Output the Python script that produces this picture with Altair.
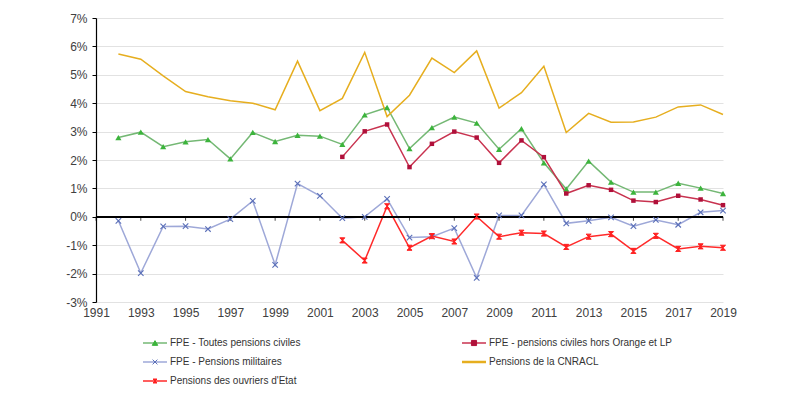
import altair as alt
import pandas as pd

years_all = list(range(1992, 2020))
years_late = list(range(2002, 2020))

toutes = [2.79, 2.98, 2.47, 2.64, 2.72, 2.04, 2.97, 2.65, 2.87, 2.84, 2.55, 3.59, 3.85, 2.40,
          3.14, 3.51, 3.30, 2.38, 3.10, 1.90, 0.98, 1.96, 1.22, 0.87, 0.87, 1.18, 1.01, 0.82]
militaires = [-0.14, -1.98, -0.34, -0.33, -0.43, -0.08, 0.56, -1.69, 1.17, 0.74, -0.05, 0.0, 0.63, -0.73,
              -0.70, -0.40, -2.15, 0.05, 0.05, 1.14, -0.23, -0.14, -0.02, -0.33, -0.11, -0.28, 0.16, 0.22]
cnracl = [5.73, 5.55, 4.96, 4.41, 4.23, 4.09, 4.00, 3.77, 5.48, 3.74, 4.17, 5.79, 3.53, 4.28,
          5.59, 5.08, 5.84, 3.83, 4.37, 5.30, 2.97, 3.64, 3.33, 3.34, 3.51, 3.87, 3.94, 3.60]
hors_orange = [2.11, 3.01, 3.25, 1.75, 2.57, 3.00, 2.79, 1.90, 2.69, 2.10,
               0.82, 1.11, 0.95, 0.57, 0.52, 0.74, 0.61, 0.41]
ouvriers = [-0.83, -1.54, 0.37, -1.09, -0.68, -0.87, 0.01, -0.70, -0.56, -0.59,
            -1.06, -0.70, -0.61, -1.20, -0.67, -1.13, -1.04, -1.09]

x_ticks = list(range(1991, 2020, 2))
y_ticks = list(range(-3, 8))

S_TOUT = "FPE - Toutes pensions civiles"
S_HORS = "FPE - pensions civiles hors Orange et LP"
S_MIL = "FPE - Pensions militaires"
S_CNR = "Pensions de la CNRACL"
S_OUV = "Pensions des ouvriers d'Etat"
series_order = [S_TOUT, S_HORS, S_MIL, S_CNR, S_OUV]

line_colors = ["#74b874", "#c8324f", "#9ea8d8", "#e6ae1f", "#ff2a2a"]
marker_colors = ["#3cb43c", "#b0103a", "#5a6fb8", "#e6ae1f", "#ff2020"]
line_widths = [1.5, 1.5, 1.3, 2.5, 1.6]

X_MARK = "M-1,-1L1,1M-1,1L1,-1"
HOURGLASS = "M-1,-1L1,-1L-1,1L1,1Z"
marker_shapes = ["triangle-up", "square", X_MARK, "circle", HOURGLASS]
legend_marker_sizes = [30, 16, 24, 0, 20]

rows = []
for name, yrs, vals in [(S_TOUT, years_all, toutes), (S_HORS, years_late, hors_orange),
                        (S_MIL, years_all, militaires), (S_CNR, years_all, cnracl),
                        (S_OUV, years_late, ouvriers)]:
    for y, v in zip(yrs, vals):
        rows.append({"year": y, "value": v, "series": name})
df = pd.DataFrame(rows)
ticks_df = pd.DataFrame({"year": x_ticks, "value": [0] * len(x_ticks)})
legend_df = pd.DataFrame({"series": series_order,
                          "col": [i % 2 for i in range(len(series_order))],
                          "row": [i // 2 for i in range(len(series_order))]})

FONT = "Liberation Sans"

x_axis = alt.Axis(values=x_ticks, format="d", title=None, ticks=False, domain=False,
                  grid=False, labelPadding=5, labelFontSize=12, labelColor="#404040",
                  labelFont=FONT, labelFlush=False)
y_axis = alt.Axis(values=y_ticks, labelExpr="datum.value + '%'", title=None,
                  domain=True, domainColor="#000000", domainWidth=1.2,
                  ticks=True, tickSize=4, tickColor="#000000",
                  grid=True, gridColor="#e2e2e2", gridWidth=1, labelOverlap=False,
                  labelPadding=5, labelFontSize=12, labelColor="#404040", labelFont=FONT)
x_scale = alt.Scale(domain=[1991, 2019], nice=False, zero=False)
y_scale = alt.Scale(domain=[-3, 7], nice=False)


def X():
    return alt.X("year:Q", scale=x_scale, axis=x_axis)


def Y():
    return alt.Y("value:Q", scale=y_scale, axis=y_axis)


color_enc = alt.Color("series:N", scale=alt.Scale(domain=series_order, range=line_colors), legend=None)

base = alt.Chart(df)

lines = base.mark_line().encode(
    x=X(), y=Y(), color=color_enc,
    strokeWidth=alt.StrokeWidth("series:N", scale=alt.Scale(domain=series_order, range=line_widths), legend=None),
)

zero_rule = alt.Chart(ticks_df).mark_rule(color="#000000", strokeWidth=1.3).encode(y=Y())
zero_ticks = alt.Chart(ticks_df).mark_tick(orient="vertical", size=4, thickness=1, color="#000000",
                                           yOffset=2).encode(x=X(), y=Y())

pts_tout = base.transform_filter(alt.datum.series == S_TOUT).mark_point(
    shape="triangle-up", filled=True, size=38, color=marker_colors[0], opacity=1).encode(x=X(), y=Y())
pts_hors = base.transform_filter(alt.datum.series == S_HORS).mark_point(
    shape="square", filled=True, size=20, color=marker_colors[1], opacity=1).encode(x=X(), y=Y())
pts_mil = base.transform_filter(alt.datum.series == S_MIL).mark_point(
    shape=X_MARK, filled=False, size=30, stroke=marker_colors[2], strokeWidth=1.1,
    opacity=1).encode(x=X(), y=Y())
pts_ouv = base.transform_filter(alt.datum.series == S_OUV).mark_point(
    shape=HOURGLASS, filled=True, size=26, fill=marker_colors[4], stroke=marker_colors[4],
    strokeWidth=1, opacity=1).encode(x=X(), y=Y())

main = alt.layer(lines, zero_rule, zero_ticks, pts_tout, pts_hors, pts_mil, pts_ouv)

# legend drawn with its own column/row scales
lx = alt.X("col:Q", scale=alt.Scale(domain=[0, 1], range=[59, 378]), axis=None)
ly = alt.Y("row:Q", scale=alt.Scale(domain=[0, 2], range=[325, 363]), axis=None)
lbase = alt.Chart(legend_df)
leg_lines = lbase.transform_filter(alt.datum.series != S_CNR).mark_tick(
    orient="horizontal", size=24, thickness=1.5, opacity=1).encode(x=lx, y=ly, color=color_enc)
leg_line_cnr = lbase.transform_filter(alt.datum.series == S_CNR).mark_tick(
    orient="horizontal", size=24, thickness=2.5, opacity=1).encode(x=lx, y=ly, color=color_enc)
leg_pts = lbase.transform_filter(alt.datum.series != S_CNR).mark_point(
    filled=True, strokeWidth=1, opacity=1).encode(
    x=lx, y=ly,
    shape=alt.Shape("series:N", scale=alt.Scale(domain=series_order, range=marker_shapes), legend=None),
    fill=alt.Fill("series:N", scale=alt.Scale(domain=series_order, range=marker_colors), legend=None),
    stroke=alt.Stroke("series:N", scale=alt.Scale(domain=series_order, range=marker_colors), legend=None),
    size=alt.Size("series:N", scale=alt.Scale(domain=series_order, range=legend_marker_sizes), legend=None),
)
leg_text = lbase.mark_text(align="left", baseline="middle", dx=15, fontSize=10, font=FONT,
                           color="#333333").encode(x=lx, y=ly, text="series:N")
legend_part = alt.layer(leg_lines, leg_line_cnr, leg_pts, leg_text)

chart = alt.layer(main, legend_part).resolve_scale(x="independent", y="independent").properties(
    width=627, height=284,
    autosize=alt.AutoSizeParams(type="none"),
    padding={"left": 88, "top": 10, "right": 70, "bottom": 86},
).configure_view(stroke=None)

chart.save("out.html", embed_options={"renderer": "svg", "actions": False})
